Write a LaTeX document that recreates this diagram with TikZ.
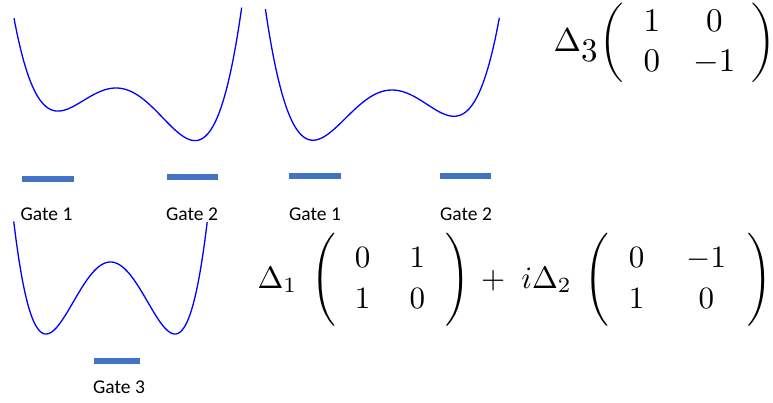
\documentclass[tikz,border=0pt]{standalone}
\usepackage[no-math]{fontspec}
\newfontfamily\gatefont{Carlito}
\definecolor{gateblue}{HTML}{4472C4}
\definecolor{wellblue}{RGB}{0,0,255}
\begin{document}
\begin{tikzpicture}[x=1pt,y=-1pt,
  well/.style={wellblue, line width=1.3pt},
  gatebar/.style={gateblue, line width=6pt},
  gatelabel/.style={font=\gatefont\fontsize{19.5}{21}\selectfont, anchor=base, inner sep=0pt},
  formula/.style={anchor=base west, inner sep=0pt},
  declare function={
    wone(\u)=88-85*((\u)*(\u)*(\u)*(\u)/4-0.35*(\u)*(\u)*(\u)/3-1.2735*(\u)*(\u)/2);
    wtwo(\u)=90-78*((\u)*(\u)*(\u)*(\u)/4+0.284*(\u)*(\u)*(\u)/3-1.3605*(\u)*(\u)/2);
    wthree(\u)=262-72*((\u)*(\u)*(\u)*(\u)-2*(\u)*(\u));
  }]
\useasboundingbox (0,0) rectangle (773,402);

% potential wells
\draw[well] plot[domain=-1.7:2.095, samples=160, variable=\u] ({116+60*(\u)},{wone(\u)});
\draw[well] plot[domain=-2.11:1.79, samples=160, variable=\u] ({392+60*(\u)},{wtwo(\u)});
\draw[well] plot[domain=-1.5:1.5, samples=160, variable=\u] ({110.5+64.5*(\u)},{wthree(\u)});

% gate bars
\draw[gatebar] (22,179) -- (74,179);
\draw[gatebar] (167,177) -- (218,177);
\draw[gatebar] (289,176) -- (341,176);
\draw[gatebar] (440,176) -- (491,176);
\draw[gatebar] (94,361) -- (140,361);

% gate labels
\node[gatelabel] (g1a) at (46.5,220) {Gate 1};
\node[gatelabel] (g2a) at (192,220) {Gate 2};
\node[gatelabel] (g1b) at (315,220) {Gate 1};
\node[gatelabel] (g2b) at (466,220) {Gate 2};
\node[gatelabel] (g3) at (119,393) {Gate 3};

% formulas
\node[formula, scale=3.3] (fz) at (553,51.5) {\renewcommand{\arraystretch}{1.01}%
  $\Delta_{\textstyle 3}\biggl(\begin{array}{@{\hspace{6.1pt}}c@{\hspace{10pt}}c@{\hspace{5pt}}}1&0\\0&-1\end{array}\biggr)$};
\node[formula, scale=3.1] (fxy) at (257,288) {\renewcommand{\arraystretch}{1.1}%
  $\Delta_1\hspace{4.5pt}\Biggl(\begin{array}{@{\hspace{6.1pt}}c@{\hspace{12.7pt}}c@{\hspace{6.5pt}}}0&1\\1&0\end{array}\Biggr)\hspace{1.4pt}+\hspace{3pt}i\Delta_2\hspace{4.2pt}\Biggl(\begin{array}{@{\hspace{6.3pt}}c@{\hspace{13.6pt}}c@{\hspace{7pt}}}0&-1\\1&0\end{array}\Biggr)$};
\end{tikzpicture}
\end{document}
